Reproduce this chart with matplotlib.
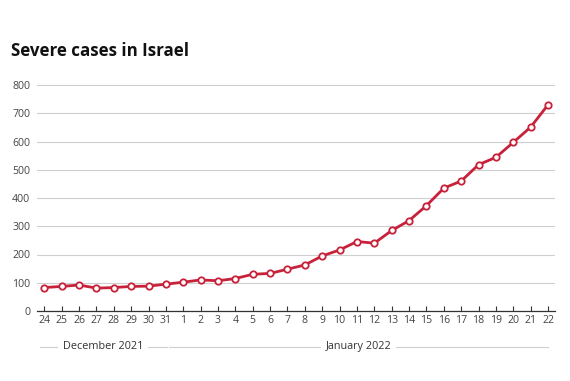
import matplotlib
matplotlib.use("Agg")
import matplotlib.pyplot as plt
import matplotlib.transforms as mtransforms

plt.rcParams["font.family"] = ["Open Sans", "DejaVu Sans"]

days = ["24", "25", "26", "27", "28", "29", "30", "31",
        "1", "2", "3", "4", "5", "6", "7", "8", "9", "10", "11", "12",
        "13", "14", "15", "16", "17", "18", "19", "20", "21", "22"]
severe = [83, 87, 92, 81, 83, 87, 88, 95,
          102, 110, 107, 115, 130, 133, 148, 163, 195, 216, 246, 240,
          285, 320, 373, 435, 460, 518, 544, 597, 651, 730]
months = ["December 2021", "January 2022"]
month_span = [(-0.25, 7.05), (7.2, 29.0)]
yticks = [0, 100, 200, 300, 400, 500, 600, 700, 800]

RED = "#c8213a"
GRID = "#cfcfcf"
TXT = "#444444"

W, H = 570, 381
fig = plt.figure(figsize=(W / 100, H / 100), dpi=100)
fig.patch.set_facecolor("white")

# axes box in pixels: x 37..555, y 311 (zero) .. 82 (top)
ymax = 810
px_per = 28.25 / 100
top_px = 311 - ymax * px_per
ax = fig.add_axes([37 / W, 1 - 311 / H, (555 - 37) / W, (311 - top_px) / H])

x = list(range(len(days)))
ax.plot(x, severe, color=RED, lw=2.0, marker="o", ms=4.6,
        mfc="white", mec=RED, mew=1.3, zorder=3, solid_joinstyle="round")

ax.set_xlim(-0.42, 29.4)
ax.set_ylim(0, ymax)
ax.set_yticks(yticks)
ax.set_xticks(x)
ax.set_xticklabels(days)
ax.grid(axis="y", color=GRID, lw=0.8)
ax.set_axisbelow(True)
for s in ("top", "right", "left"):
    ax.spines[s].set_visible(False)
ax.spines["bottom"].set_color("#333333")
ax.spines["bottom"].set_linewidth(0.9)
ax.tick_params(axis="y", length=0, pad=5, labelsize=7.6, labelcolor=TXT)
ax.tick_params(axis="x", direction="in", length=3.5, width=0.8, color="#333333",
               pad=3, labelsize=7.6, labelcolor=TXT)

# month brackets under the day labels
tr = mtransforms.blended_transform_factory(ax.transData, fig.transFigure)
yb = 1 - 346.5 / H
for name, (a, b) in zip(months, month_span):
    ax.plot([a, b], [yb, yb], color=GRID, lw=0.8, transform=tr, clip_on=False)
    ax.text((a + b) / 2, yb, name, transform=tr, ha="center", va="center",
            fontsize=7.8, color="#333333",
            bbox=dict(facecolor="white", edgecolor="none", pad=3.5))

fig.text(11 / W, 1 - 56.5 / H, "Severe cases in Israel", fontsize=12.2,
         fontweight="bold", color="#111111", va="baseline")

fig.savefig("out.png", dpi=100, facecolor="white")
